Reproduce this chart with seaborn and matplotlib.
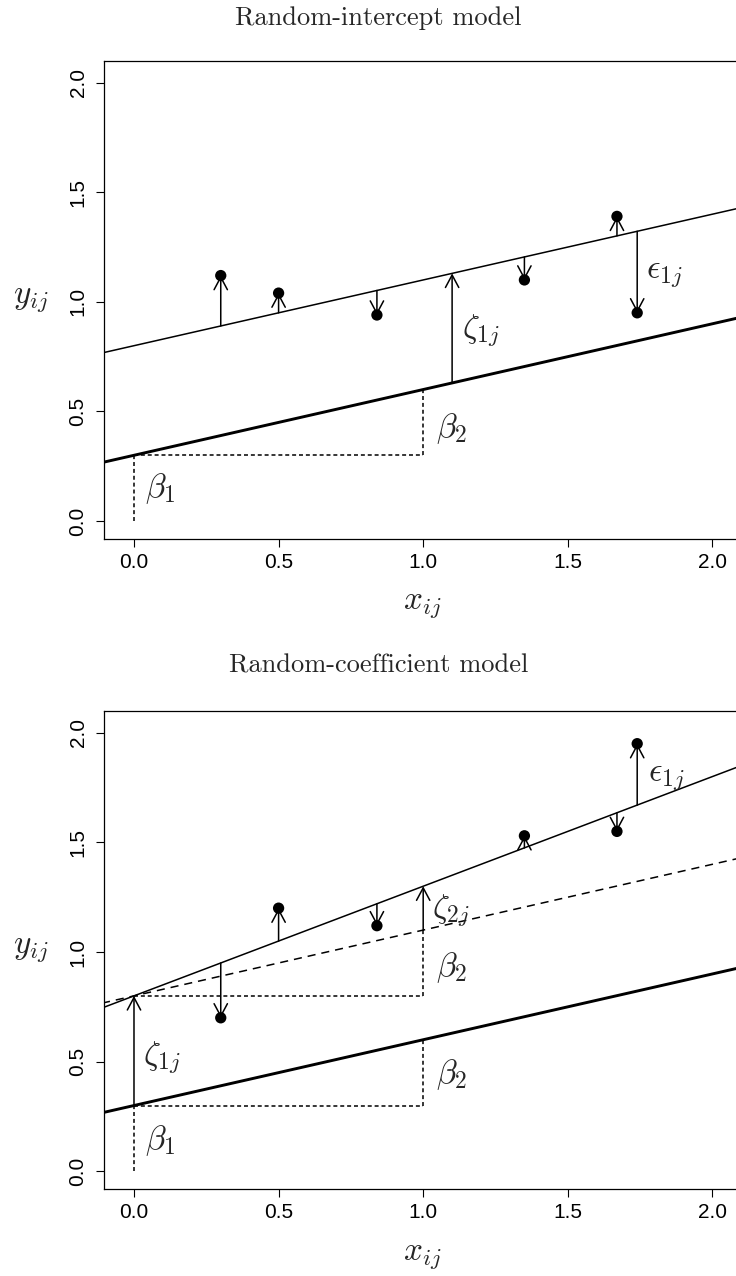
import numpy as np
import pandas as pd
import matplotlib
matplotlib.use("Agg")
import matplotlib.pyplot as plt
import seaborn as sns

# ---- model quantities -------------------------------------------------------
beta1 = 0.3          # fixed intercept
beta2 = 0.3          # fixed slope
zeta1 = 0.5          # random intercept for cluster j
zeta2 = 0.2          # random slope for cluster j

# observed units in cluster j
x_obs = [0.30, 0.50, 0.84, 1.35, 1.67, 1.74]
y_obs_intercept = [1.12, 1.04, 0.94, 1.10, 1.39, 0.95]
y_obs_coef = [0.70, 1.20, 1.12, 1.53, 1.55, 1.95]

x_ticks = [0.0, 0.5, 1.0, 1.5, 2.0]
y_ticks = [0.0, 0.5, 1.0, 1.5, 2.0]
x_ticklabels = ["0.0", "0.5", "1.0", "1.5", "2.0"]
y_ticklabels = ["0.0", "0.5", "1.0", "1.5", "2.0"]

titles = ["Random-intercept model", "Random-coefficient model"]

# ---- styling ----------------------------------------------------------------
sns.set_style("ticks")
plt.rcParams["font.family"] = ["Liberation Sans", "DejaVu Sans"]
plt.rcParams["mathtext.fontset"] = "cm"

W, H = 736, 1276
fig = plt.figure(figsize=(W / 100, H / 100), dpi=100)


def fx(px):
    return px / W


def fy(py):
    return 1 - py / H


XLIM = (-0.1037, -0.1037 + 636 / 289.2)
YLIM = (-0.082, 2.099)
MATH = 24
THIN = 1.1
THICK = 2.1
GUIDE = (0, (2.6, 1.9))
ARROW = dict(arrowstyle="->,head_length=0.9,head_width=0.48", lw=THIN,
             color="black", shrinkA=0, shrinkB=0, mutation_scale=10)
x_line = np.array([-0.3, 2.4])


def setup(ax):
    ax.set_xlim(*XLIM)
    ax.set_ylim(*YLIM)
    ax.set_xticks(x_ticks, x_ticklabels)
    ax.set_yticks(y_ticks, y_ticklabels)
    ax.tick_params(axis="both", labelsize=15, length=5.8, width=0.8,
                   color="black", labelcolor="black")
    ax.tick_params(axis="x", pad=4)
    ax.tick_params(axis="y", pad=6)
    for lab in ax.get_yticklabels():
        lab.set_rotation(90)
        lab.set_va("center")
    for sp in ax.spines.values():
        sp.set_visible(True)
        sp.set_linewidth(0.9)
        sp.set_color("black")
    ax.set_xlabel("")
    ax.set_ylabel("")


def draw_line(ax, intercept, slope, lw, dashes=None):
    df = pd.DataFrame({"x": x_line, "y": intercept + slope * x_line})
    sns.lineplot(data=df, x="x", y="y", ax=ax, color="black", lw=lw)
    if dashes is not None:
        ax.lines[-1].set_dashes(dashes)


def residual_arrows(ax, intercept, slope, xs, ys):
    for xv, yv in zip(xs, ys):
        y_fit = intercept + slope * xv
        ax.annotate("", xy=(xv, yv), xytext=(xv, y_fit), arrowprops=ARROW)


def points(ax, xs, ys):
    sns.scatterplot(x=xs, y=ys, ax=ax, color="black", s=66,
                    edgecolor="none", zorder=5)


def guides(ax, b0, slope):
    # unit run along x and the rise it produces
    ax.plot([0, 1], [b0, b0], color="black", lw=THIN, ls=GUIDE)
    ax.plot([1, 1], [b0, b0 + slope], color="black", lw=THIN, ls=GUIDE)


# ---- panel 1: random intercept ---------------------------------------------
ax1 = fig.add_axes([fx(104), fy(539), 636 / W, 478 / H])
draw_line(ax1, beta1, beta2, THICK)
draw_line(ax1, beta1 + zeta1, beta2, THIN)
ax1.plot([0, 0], [0, beta1], color="black", lw=THIN, ls=GUIDE)
guides(ax1, beta1, beta2)
ax1.annotate("", xy=(1.1, beta1 + zeta1 + beta2 * 1.1),
             xytext=(1.1, beta1 + beta2 * 1.1), arrowprops=ARROW)
residual_arrows(ax1, beta1 + zeta1, beta2, x_obs, y_obs_intercept)
points(ax1, x_obs, y_obs_intercept)
ax1.text(0.037, 0.15, r"$\beta_1$", fontsize=MATH, ha="left", va="center")
ax1.text(1.044, 0.42, r"$\beta_2$", fontsize=MATH, ha="left", va="center")
ax1.text(1.135, 0.87, r"$\zeta_{1j}$", fontsize=MATH, ha="left", va="center")
ax1.text(1.772, 1.13, r"$\epsilon_{1j}$", fontsize=MATH, ha="left", va="center")
setup(ax1)

# ---- panel 2: random coefficient -------------------------------------------
ax2 = fig.add_axes([fx(104), fy(1189.3), 636 / W, 478.3 / H])
draw_line(ax2, beta1, beta2, THICK)
draw_line(ax2, beta1 + zeta1, beta2, THIN, dashes=(5.3, 3.9))
draw_line(ax2, beta1 + zeta1, beta2 + zeta2, THIN)
ax2.plot([0, 0], [0, beta1], color="black", lw=THIN, ls=GUIDE)
guides(ax2, beta1, beta2)
guides(ax2, beta1 + zeta1, beta2)
ax2.annotate("", xy=(0, beta1 + zeta1), xytext=(0, beta1), arrowprops=ARROW)
ax2.annotate("", xy=(1, beta1 + zeta1 + beta2 + zeta2),
             xytext=(1, beta1 + zeta1 + beta2), arrowprops=ARROW)
residual_arrows(ax2, beta1 + zeta1, beta2 + zeta2, x_obs, y_obs_coef)
points(ax2, x_obs, y_obs_coef)
ax2.text(0.039, 0.14, r"$\beta_1$", fontsize=MATH, ha="left", va="center")
ax2.text(1.046, 0.44, r"$\beta_2$", fontsize=MATH, ha="left", va="center")
ax2.text(1.044, 0.93, r"$\beta_2$", fontsize=MATH, ha="left", va="center")
ax2.text(0.031, 0.52, r"$\zeta_{1j}$", fontsize=MATH, ha="left", va="center")
ax2.text(1.029, 1.19, r"$\zeta_{2j}$", fontsize=MATH, ha="left", va="center")
ax2.text(1.776, 1.80, r"$\epsilon_{1j}$", fontsize=MATH, ha="left", va="center")
setup(ax2)

# ---- titles and axis labels -------------------------------------------------
fig.text(fx(378), fy(25), titles[0], family="cmr10", fontsize=19,
         ha="center", va="baseline")
fig.text(fx(379), fy(673), titles[1], family="cmr10", fontsize=19,
         ha="center", va="baseline")
fig.text(fx(422), fy(608.5), r"$x_{ij}$", fontsize=MATH, ha="center", va="baseline")
fig.text(fx(422), fy(1259.5), r"$x_{ij}$", fontsize=MATH, ha="center", va="baseline")
fig.text(fx(31), fy(302.7), r"$y_{ij}$", fontsize=MATH, ha="center", va="baseline")
fig.text(fx(31), fy(952.5), r"$y_{ij}$", fontsize=MATH, ha="center", va="baseline")

fig.savefig("out.png", dpi=100)
